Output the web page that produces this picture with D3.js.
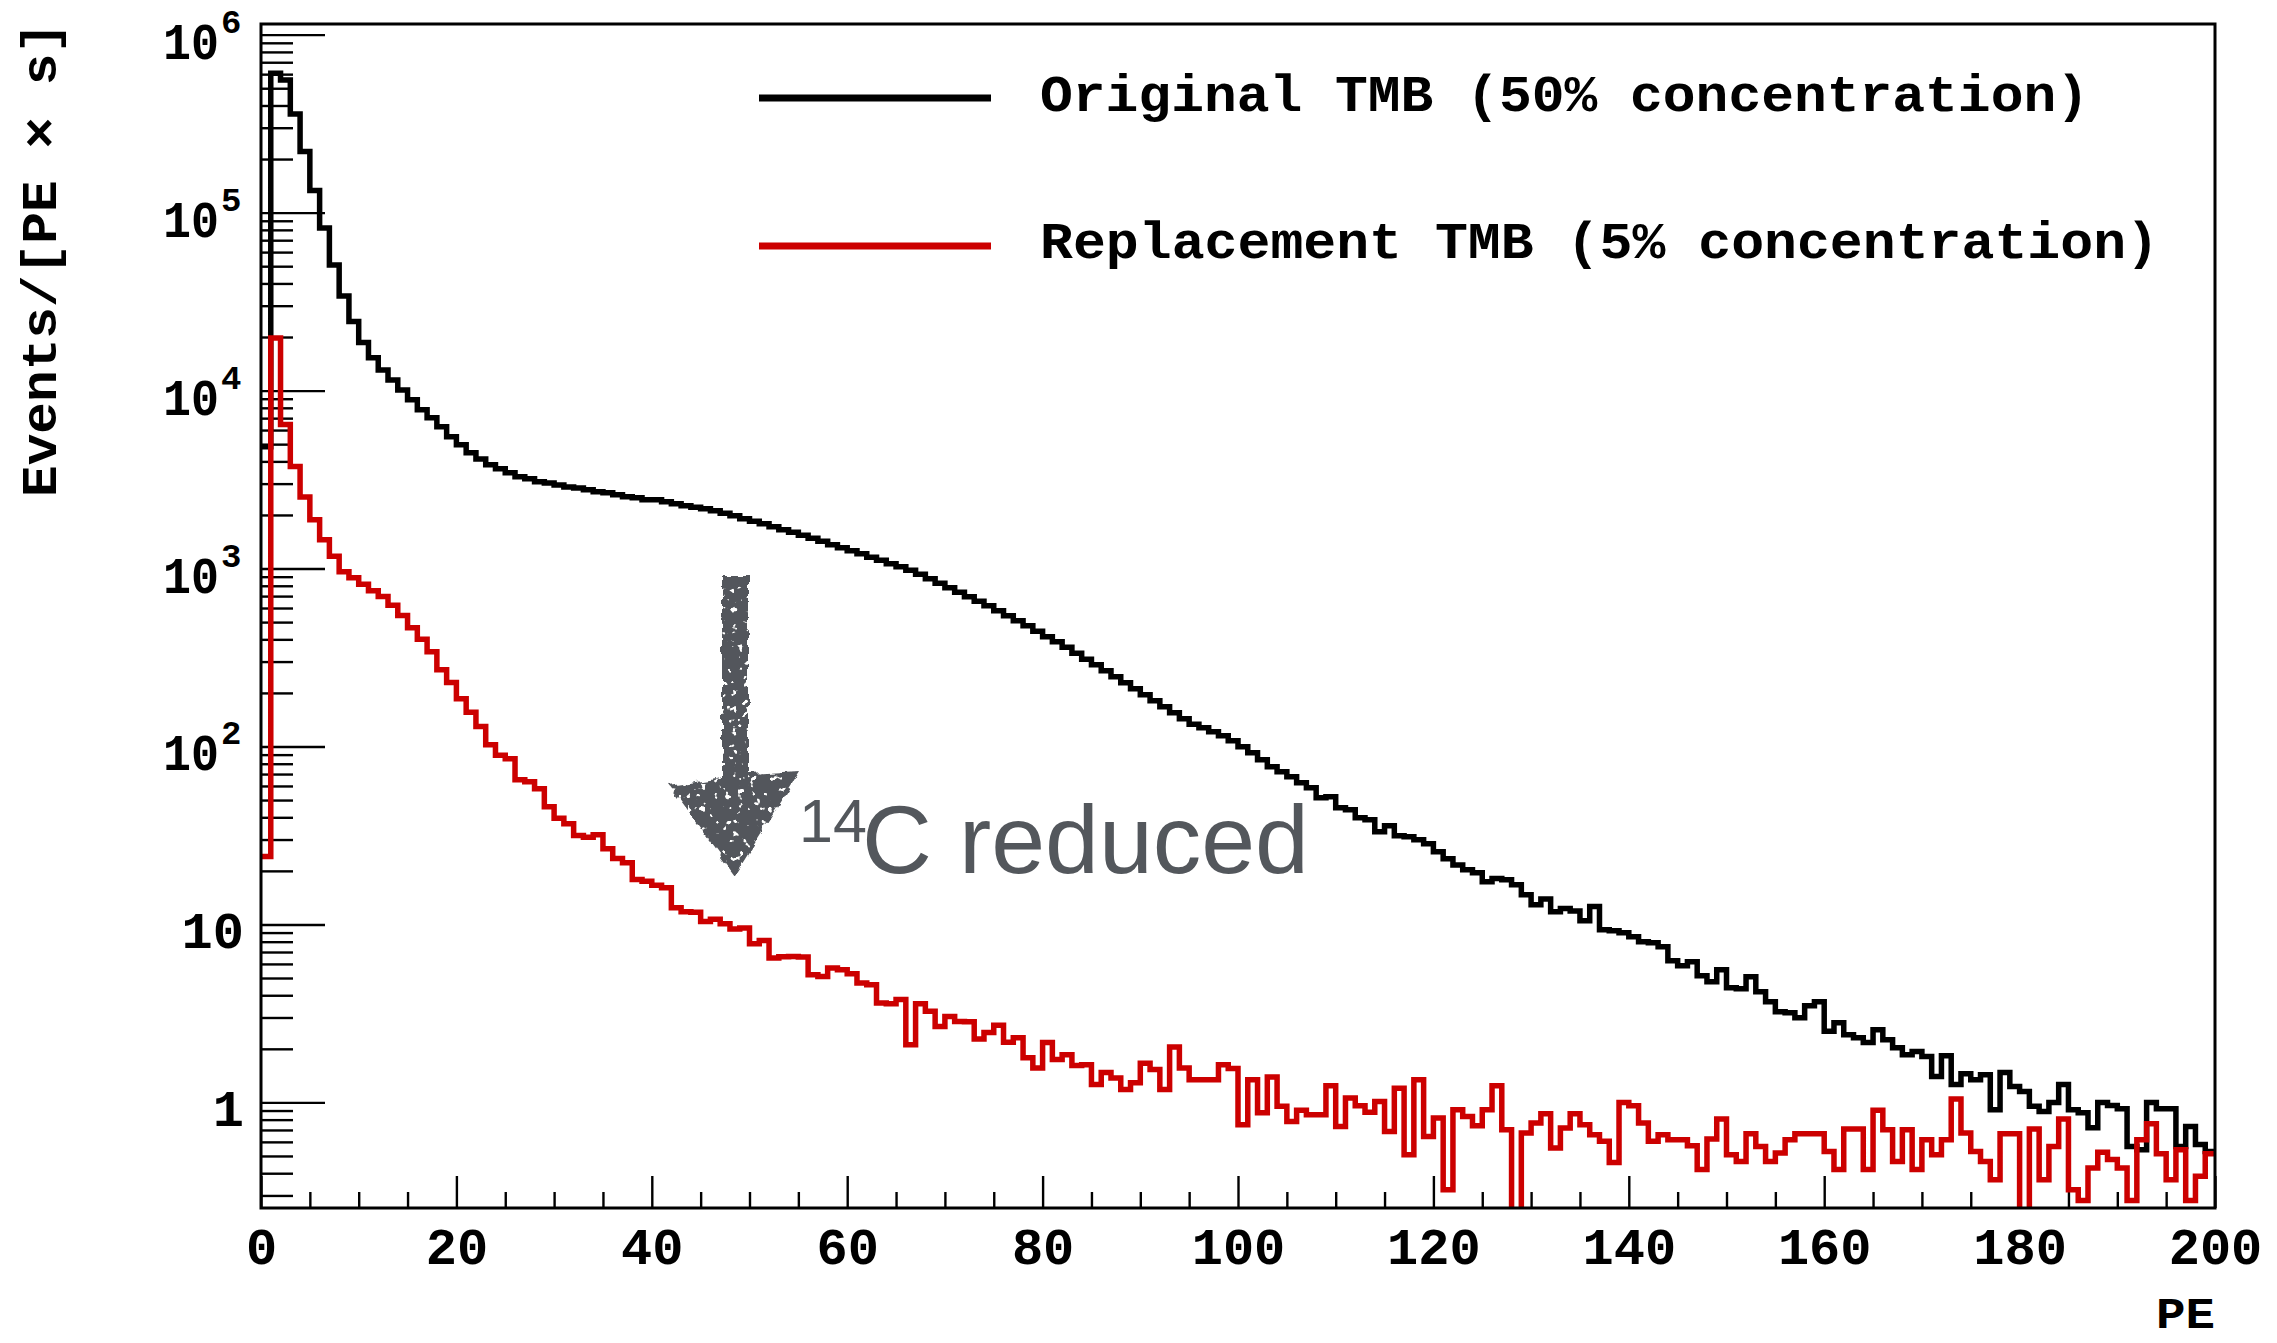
<!DOCTYPE html>
<html>
<head>
<meta charset="utf-8">
<script src="https://cdn.jsdelivr.net/npm/d3@7"></script>
<style>
  html, body { margin: 0; padding: 0; background: #ffffff; }
  svg { display: block; }
</style>
</head>
<body>
<svg id="chart" width="2277" height="1343"></svg>
<script>
// Photo-electron spectrum, 1 PE bins from 0 to 200
const binLow = d3.range(0, 200);

// Events / [PE x s], original scintillator (50% TMB)
const originalTMB = [
  4830, 607000, 556600, 358400, 220200, 133000, 82050, 50830, 34050, 24420,
  18620, 15270, 13070, 11480, 10090, 8870, 7795, 7025, 6255, 5495,
  4955, 4467, 4130, 3826, 3632, 3450, 3275, 3192, 3069, 3029,
  2951, 2876, 2839, 2767, 2697, 2662, 2595, 2529, 2496, 2433,
  2432, 2370, 2310, 2250, 2207, 2165, 2110, 2042, 1977, 1902,
  1842, 1783, 1715, 1650, 1598, 1537, 1478, 1422, 1359, 1307,
  1257, 1209, 1156, 1112, 1063, 1022, 977, 927.8, 875, 825.9,
  779.3, 735.1, 693.4, 654.1, 617.1, 578.5, 542.4, 508.5, 476.6, 443.9,
  413.4, 387.5, 360.8, 333.9, 309.0, 287.7, 266.3, 246.4, 228.0, 211.0,
  195.2, 180.6, 167.1, 154.6, 143.0, 133.3, 127.4, 120.9, 114.8, 107.6,
  99.6, 92.2, 84.2, 76.9, 72.1, 67.6, 62.5, 58.6, 51.5, 52.2,
  45.2, 44.1, 39.8, 38.7, 33.2, 35.8, 31.5, 31.1, 29.9, 28.4,
  25.6, 23.4, 21.6, 20.3, 19.5, 17.4, 18.1, 17.8, 16.7, 14.7,
  12.9, 13.9, 11.8, 12.3, 11.9, 10.5, 12.6, 9.34, 9.22, 8.98,
  8.53, 7.99, 7.89, 7.49, 6.25, 5.86, 6.17, 5.15, 4.77, 5.57,
  4.41, 4.35, 5.08, 4.19, 3.68, 3.23, 3.19, 2.99, 3.49, 3.68,
  2.51, 2.80, 2.40, 2.31, 2.17, 2.56, 2.25, 2.03, 1.85, 1.93,
  1.81, 1.40, 1.83, 1.26, 1.45, 1.34, 1.43, 0.91, 1.47, 1.23,
  1.15, 0.95, 0.89, 1.00, 1.26, 0.91, 0.875, 0.72, 1.00, 0.96,
  0.92, 0.566, 0.542, 1.00, 0.92, 0.92, 0.566, 0.733, 0.579, 0.530
];

// Events / [PE x s], replacement scintillator (5% TMB)
const replacementTMB = [
  24.1, 19770, 6450, 3746, 2527, 1878, 1450, 1171, 960.7, 886.8,
  816.1, 749.5, 696.1, 621.3, 543.8, 464.5, 400.2, 340.4, 269.7, 228.8,
  185.3, 155.6, 129.5, 102.2, 89.4, 85.3, 65.0, 63.3, 57.9, 45.8,
  39.5, 36.8, 31.6, 30.9, 31.9, 26.6, 23.5, 22.2, 17.9, 17.5,
  16.6, 16.1, 12.4, 11.8, 11.7, 10.4, 10.7, 10.1, 9.42, 9.55,
  7.79, 8.13, 6.47, 6.58, 6.61, 6.56, 5.22, 5.10, 5.69, 5.57,
  5.28, 4.69, 4.58, 3.62, 3.58, 3.78, 2.11, 3.58, 3.25, 2.67,
  3.04, 2.85, 2.84, 2.27, 2.47, 2.71, 2.18, 2.31, 1.78, 1.56,
  2.17, 1.74, 1.85, 1.61, 1.63, 1.26, 1.47, 1.37, 1.18, 1.29,
  1.66, 1.53, 1.18, 2.05, 1.56, 1.34, 1.34, 1.34, 1.63, 1.55,
  0.75, 1.34, 0.875, 1.39, 0.95, 0.782, 0.902, 0.853, 0.853, 1.24,
  0.733, 1.06, 0.958, 0.879, 1.01, 0.687, 1.20, 0.508, 1.34, 0.644,
  0.817, 0.323, 0.910, 0.834, 0.740, 0.910, 1.24, 0.703, 0, 0.673,
  0.766, 0.864, 0.554, 0.718, 0.864, 0.75, 0.658, 0.604, 0.460, 1.00,
  0.958, 0.766, 0.604, 0.658, 0.617, 0.617, 0.571, 0.419, 0.623, 0.807,
  0.508, 0.466, 0.667, 0.566, 0.466, 0.520, 0.617, 0.667, 0.667, 0.667,
  0.530, 0.419, 0.709, 0.709, 0.419, 0.902, 0.703, 0.466, 0.703, 0.419,
  0.617, 0.508, 0.617, 1.045, 0.673, 0.530, 0.466, 0.368, 0.667, 0.667,
  0, 0.709, 0.368, 0.566, 0.807, 0.323, 0.281, 0.428, 0.524, 0.477,
  0.428, 0.281, 0.617, 0.759, 0.515, 0.368, 0.542, 0.281, 0.384, 0.515
];

const seriesNames = ["Original TMB (50% concentration)", "Replacement TMB (5% concentration)"];
const seriesColors = ["#000000", "#cc0000"];

const xMajorTicks = [0, 20, 40, 60, 80, 100, 120, 140, 160, 180, 200];
const xMinorTicks = d3.range(0, 201, 5).filter(v => v % 20 !== 0);
const yDecades = [1, 10, 100, 1000, 10000, 100000, 1000000];
const yDecadeBase = ["1", "10", "10", "10", "10", "10", "10"];
const yDecadeExp = [null, null, "2", "3", "4", "5", "6"];

const xTitle = "PE";
const yTitle = "Events/[PE \u00d7 s]";
const noteIsotope = "14";
const noteText = "C reduced";

// ---- layout ----
const frame = { left: 261, right: 2215, top: 24, bottom: 1208 };
const monoBold = "'Liberation Mono', 'DejaVu Sans Mono', monospace";

const svg = d3.select("#chart");

const x = d3.scaleLinear().domain([0, 200]).range([frame.left, frame.right]);
const y = d3.scaleLog().domain([0.255, 1.148e6]).range([frame.bottom, frame.top]);

// minor ticks on the log axis: 2..9 x each decade inside the domain
const yMinorTicks = [];
[0.1, 1, 10, 100, 1e3, 1e4, 1e5, 1e6].forEach(d => {
  for (let m = 2; m <= 9; m++) {
    const v = d * m;
    if (v >= y.domain()[0] && v <= y.domain()[1]) yMinorTicks.push(v);
  }
});

const defs = svg.append("defs");
defs.append("clipPath").attr("id", "plotClip")
  .append("rect")
  .attr("x", frame.left).attr("y", frame.top)
  .attr("width", frame.right - frame.left).attr("height", frame.bottom - frame.top);

// chalky texture for the hand-drawn arrow: ragged edges plus scattered light flecks
const chalk = defs.append("filter").attr("id", "chalk")
  .attr("x", "-10%").attr("y", "-10%").attr("width", "120%").attr("height", "120%");
chalk.append("feTurbulence").attr("type", "fractalNoise").attr("baseFrequency", "0.09")
  .attr("numOctaves", 2).attr("seed", 3).attr("result", "warp");
chalk.append("feDisplacementMap").attr("in", "SourceGraphic").attr("in2", "warp")
  .attr("scale", 8).attr("xChannelSelector", "R").attr("yChannelSelector", "G").attr("result", "ragged");
chalk.append("feTurbulence").attr("type", "fractalNoise").attr("baseFrequency", "0.16")
  .attr("numOctaves", 2).attr("seed", 11).attr("result", "speck");
chalk.append("feColorMatrix").attr("in", "speck").attr("type", "matrix")
  .attr("values", "0 0 0 0 0  0 0 0 0 0  0 0 0 0 0  -16 0 0 0 11.4").attr("result", "holes");
chalk.append("feComposite").attr("in", "ragged").attr("in2", "holes").attr("operator", "in");

// ---- axes (ticks drawn inside the frame) ----
const tickStyle = g => {
  g.select(".domain").remove();
  g.selectAll(".tick line").attr("stroke", "#000").attr("stroke-width", 2.4);
};

svg.append("g")
  .attr("transform", `translate(0,${frame.bottom})`)
  .call(d3.axisBottom(x).tickValues(xMinorTicks).tickSize(-16).tickFormat(""))
  .call(tickStyle);

const xAxis = svg.append("g")
  .attr("transform", `translate(0,${frame.bottom})`)
  .call(d3.axisBottom(x).tickValues(xMajorTicks).tickSize(-32).tickPadding(19).tickFormat(d3.format("d")))
  .call(tickStyle);
xAxis.selectAll(".tick text")
  .attr("font-family", monoBold).attr("font-weight", "bold").attr("font-size", 52)
  .attr("fill", "#000");

svg.append("g")
  .attr("transform", `translate(${frame.left},0)`)
  .call(d3.axisLeft(y).tickValues(yMinorTicks).tickSize(-32).tickFormat(""))
  .call(tickStyle);

svg.append("g")
  .attr("transform", `translate(${frame.left},0)`)
  .call(d3.axisLeft(y).tickValues(yDecades).tickSize(-64).tickFormat(""))
  .call(tickStyle);

// decade labels: 1, 10, 10^2 ... 10^6
const yLab = svg.append("g").attr("font-family", monoBold).attr("font-weight", "bold").attr("fill", "#000");
yDecades.forEach((v, i) => {
  const ty = y(v);
  if (yDecadeExp[i] === null) {
    yLab.append("text").attr("x", 244).attr("y", ty + 24)
      .attr("text-anchor", "end").attr("font-size", 52).text(yDecadeBase[i]);
  } else {
    yLab.append("text").attr("x", 219).attr("y", ty + 24)
      .attr("text-anchor", "end").attr("font-size", 52)
      .attr("textLength", 56).attr("lengthAdjust", "spacingAndGlyphs").text(yDecadeBase[i]);
    yLab.append("text").attr("x", 221).attr("y", ty - 2)
      .attr("font-size", 34).text(yDecadeExp[i]);
  }
});

// ---- histograms ----
const stepLine = d3.line()
  .x(d => x(d[0]))
  .y(d => y(Math.max(d[1], 0.05)))
  .curve(d3.curveStepAfter);

const hist = svg.append("g").attr("clip-path", "url(#plotClip)");
[originalTMB, replacementTMB].forEach((vals, k) => {
  const pts = binLow.map(i => [i, vals[i]]);
  pts.push([200, vals[vals.length - 1]]);
  hist.append("path")
    .attr("d", stepLine(pts))
    .attr("fill", "none")
    .attr("stroke", seriesColors[k])
    .attr("stroke-width", 5.5)
    .attr("stroke-linejoin", "miter")
    .attr("stroke-linecap", "butt");
});

// ---- frame ----
svg.append("rect")
  .attr("x", frame.left).attr("y", frame.top)
  .attr("width", frame.right - frame.left).attr("height", frame.bottom - frame.top)
  .attr("fill", "none").attr("stroke", "#000").attr("stroke-width", 3);

// ---- axis titles ----
svg.append("text")
  .attr("x", frame.right).attr("y", 1328)
  .attr("text-anchor", "end")
  .attr("font-family", monoBold).attr("font-weight", "bold").attr("font-size", 44)
  .attr("textLength", 59).attr("lengthAdjust", "spacingAndGlyphs")
  .text(xTitle);

svg.append("text")
  .attr("transform", "translate(56,22) rotate(-90)")
  .attr("text-anchor", "end")
  .attr("font-family", monoBold).attr("font-weight", "bold").attr("font-size", 50)
  .attr("textLength", 475).attr("lengthAdjust", "spacingAndGlyphs")
  .text(yTitle);

// ---- legend ----
const legend = svg.append("g");
const legendRows = [
  { lineY: 98, textY: 111, width: 1049 },
  { lineY: 246, textY: 258, width: 1119 }
];
legendRows.forEach((r, k) => {
  legend.append("line")
    .attr("x1", 759).attr("x2", 991).attr("y1", r.lineY).attr("y2", r.lineY)
    .attr("stroke", seriesColors[k]).attr("stroke-width", 7);
  legend.append("text")
    .attr("x", 1040).attr("y", r.textY)
    .attr("font-family", monoBold).attr("font-weight", "bold").attr("font-size", 52)
    .attr("textLength", r.width).attr("lengthAdjust", "spacingAndGlyphs")
    .attr("fill", "#000")
    .text(seriesNames[k]);
});

// ---- annotation: arrow and note ----
const noteColor = "#53575c";
const note = svg.append("g");
note.append("path")
  .attr("d", "M722,576 L748,576 L748,774 L800,771 L735,875 L669,786 L722,778 Z")
  .attr("fill", noteColor)
  .attr("filter", "url(#chalk)");

note.append("text")
  .attr("x", 799).attr("y", 842)
  .attr("font-family", "'Liberation Sans', Arial, sans-serif").attr("font-size", 61)
  .attr("fill", noteColor).text(noteIsotope);
note.append("text")
  .attr("x", 862).attr("y", 873)
  .attr("font-family", "'Liberation Sans', Arial, sans-serif").attr("font-size", 96)
  .attr("textLength", 447).attr("lengthAdjust", "spacingAndGlyphs")
  .attr("fill", noteColor).text(noteText);
</script>
</body>
</html>
